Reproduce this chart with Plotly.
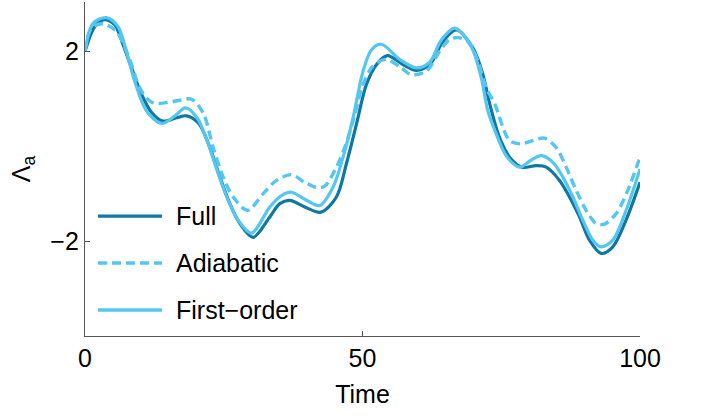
import plotly.graph_objects as go

# Sampled trajectories of Lambda_a over time for three models
t_full = [0, 1.75, 3.5, 5.35, 6.85, 8.4, 10.2, 12, 14, 16.5, 18.3, 20.5, 22.5, 24.3, 26.1,
          27.9, 30.3, 33.3, 35.1, 36.9, 39.6, 42.5, 45.3, 47.1, 48.9, 50.7, 52.5, 54.5,
          57.3, 59.7, 62.1, 64.5, 66.9, 69.9, 71.7, 72.8, 74.7, 76.5, 78.7, 81.3, 83.1,
          85.5, 87.3, 89.1, 90.9, 93, 95.1, 97.5, 100]
v_full = [2.0, 2.52, 2.67, 2.56, 2.14, 1.65, 1.09, 0.71, 0.53, 0.6, 0.64, 0.48, -0.03, -0.65,
          -1.21, -1.63, -1.92, -1.49, -1.21, -1.14, -1.28, -1.39, -1.07, -0.37, 0.46, 1.30,
          1.72, 1.91, 1.72, 1.6, 1.72, 2.21, 2.45, 2.07, 1.51, 0.95, 0.18, -0.23, -0.44,
          -0.41, -0.44, -0.72, -1.07, -1.49, -1.98, -2.26, -2.12, -1.55, -0.76]

t_adiab = [0, 1.15, 3.3, 5.65, 8.05, 9.85, 11.7, 13.1, 17.1, 19.2, 21.3, 23.1, 24.9, 26.7,
           29.3, 32.1, 34.5, 37.2, 39.6, 41.7, 43.2, 45, 46.8, 48.3, 50.1, 51.9, 54.3, 57,
           58.8, 61.5, 63.9, 65.7, 67.2, 69, 70.8, 72.3, 73.8, 76.5, 78.6, 80.7, 82.8,
           84.9, 86.7, 88.5, 90.3, 92.1, 93.6, 95.7, 97.8, 100]
v_adiab = [2.0, 2.49, 2.58, 2.42, 1.83, 1.23, 0.95, 0.9, 0.97, 0.99, 0.7, -0.03, -0.65,
           -1.07, -1.35, -1.0, -0.72, -0.6, -0.76, -0.87, -0.84, -0.51, -0.03, 0.53, 1.30,
           1.69, 1.83, 1.65, 1.51, 1.58, 2.0, 2.25, 2.29, 2.21, 1.79, 1.23, 0.9, 0.12, 0.05,
           0.12, 0.17, -0.03, -0.44, -0.93, -1.35, -1.63, -1.64, -1.42, -0.93, -0.23]

t_first = [0, 1.45, 3.85, 5.95, 7.45, 8.95, 11.1, 13.8, 16.2, 18.1, 20.2, 22.2, 24, 25.8,
           27.6, 30, 33.3, 35.4, 37.2, 39.9, 42.3, 44.7, 46.5, 48.3, 50.1, 51.6, 53.4,
           56.7, 59.7, 62.1, 64.2, 66.6, 69.6, 71.4, 72.6, 74.1, 75.9, 78.3, 80.3, 82.2,
           84.3, 86.1, 87.9, 89.7, 91.5, 93, 95.1, 97.5, 100]
v_first = [2.0, 2.59, 2.71, 2.52, 2.0, 1.37, 0.74, 0.48, 0.64, 0.81, 0.6, 0.05, -0.58,
           -1.14, -1.56, -1.83, -1.28, -1.04, -0.97, -1.14, -1.25, -0.86, -0.23, 0.60, 1.58,
           2.03, 2.15, 1.83, 1.65, 1.77, 2.24, 2.49, 2.1, 1.44, 0.74, 0.26, -0.2, -0.44,
           -0.3, -0.2, -0.34, -0.65, -1.07, -1.56, -1.98, -2.12, -1.98, -1.35, -0.48]

x_ticks = [0, 50, 100]
x_tick_text = ["0", "50", "100"]
y_ticks = [-2, 2]
y_tick_text = ["\u22122", "2"]

names = ["Full", "Adiabatic", "First\u2212order"]
DARK = "#0e77a2"
LIGHT = "#55c6ef"
FONT = "Liberation Sans, Arial, sans-serif"
FS = 25

fig = go.Figure()
fig.add_trace(go.Scatter(x=t_full, y=v_full, name=names[0], mode="lines",
                         line=dict(color=DARK, width=3.2, shape="spline", smoothing=0.9),
                         showlegend=False))
fig.add_trace(go.Scatter(x=t_first, y=v_first, name=names[2], mode="lines",
                         line=dict(color=LIGHT, width=3.2, shape="spline", smoothing=0.9),
                         showlegend=False))
fig.add_trace(go.Scatter(x=t_adiab, y=v_adiab, name=names[1], mode="lines",
                         line=dict(color=LIGHT, width=3.4, shape="spline", smoothing=0.9,
                                   dash="9px,5px"),
                         showlegend=False))

# Legend drawn as keyed line samples plus labels in paper space
legend_rows = [(0.359, DARK, "solid", names[0]),
               (0.2186, LIGHT, "9px,5px", names[1]),
               (0.0778, LIGHT, "solid", names[2])]
for yy, col, dsh, label in legend_rows:
    fig.add_shape(type="line", xref="paper", yref="paper", x0=0.0234, x1=0.1387,
                  y0=yy, y1=yy, line=dict(color=col, width=3.4, dash=dsh))
    fig.add_annotation(xref="paper", yref="paper", x=0.1604, y=yy, text=label,
                       showarrow=False, xanchor="left", yanchor="middle",
                       font=dict(size=FS, color="#000", family=FONT))

axis_common = dict(showgrid=False, zeroline=False, showline=True, linecolor="#555",
                   linewidth=1.3, ticks="inside", ticklen=5, tickcolor="#555",
                   tickwidth=1, tickfont=dict(size=FS, color="#000", family=FONT),
                   mirror=False)

fig.update_layout(
    width=702, height=416,
    margin=dict(l=85, r=62, t=2, b=80),
    paper_bgcolor="white", plot_bgcolor="white",
    xaxis=dict(range=[0, 100], tickvals=x_ticks, ticktext=x_tick_text,
               title=dict(text="Time", font=dict(size=FS, color="#000", family=FONT),
                          standoff=14),
               **axis_common),
    yaxis=dict(range=[-4, 3.04], tickvals=y_ticks, ticktext=y_tick_text,
               title=dict(text="\u039b<sub>a</sub>", font=dict(size=FS, color="#000", family=FONT),
                          standoff=12),
               **axis_common),
)

fig.write_html("out.html")
